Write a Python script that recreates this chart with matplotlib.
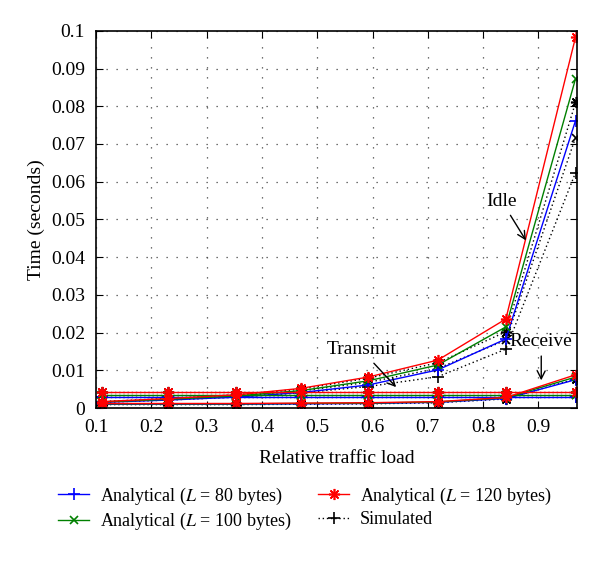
#!/usr/bin/env python3

import matplotlib
matplotlib.use('Agg')
import matplotlib.pyplot as plt
import numpy as np

plt.rcParams['font.family'] = ['Liberation Serif', 'DejaVu Serif']
plt.rcParams['mathtext.fontset'] = 'stix'
plt.rcParams['font.size'] = 14

# relative traffic load
load = [0.11, 0.23, 0.354, 0.47, 0.592, 0.718, 0.841, 0.967]

# idle time
idle_80 = [0.0015, 0.0021, 0.0029, 0.0041, 0.0061, 0.0101, 0.0183, 0.0762]
idle_100 = [0.0016, 0.0023, 0.0032, 0.0046, 0.0072, 0.0114, 0.0215, 0.0873]
idle_120 = [0.0017, 0.0025, 0.0035, 0.0052, 0.0082, 0.0127, 0.0236, 0.0983]
idle_sim_80 = [0.0015, 0.0021, 0.0029, 0.0040, 0.0057, 0.0083, 0.0156, 0.0624]
idle_sim_100 = [0.0016, 0.0023, 0.0032, 0.0045, 0.0068, 0.0105, 0.0180, 0.0717]
idle_sim_120 = [0.0017, 0.0025, 0.0035, 0.0050, 0.0079, 0.0120, 0.0202, 0.0810]

# transmit time
tx_80 = [0.0028] * 8
tx_100 = [0.0035] * 8
tx_120 = [0.0042] * 8

# receive time
rx_80 = [0.0010, 0.0010, 0.0010, 0.0011, 0.0012, 0.0015, 0.0025, 0.0075]
rx_100 = [0.0011, 0.0011, 0.0011, 0.0012, 0.0013, 0.0016, 0.0027, 0.0082]
rx_120 = [0.0012, 0.0012, 0.0012, 0.0013, 0.0014, 0.0017, 0.0028, 0.0088]
rx_sim = [0.0009, 0.0009, 0.0009, 0.0010, 0.0011, 0.0014, 0.0024, 0.0077]

fig = plt.figure(figsize=(6, 5.63), dpi=100)
ax = fig.add_axes([0.16, 0.2753, 0.802, 0.67])

#MATLAB-like markers
ast = (8, 2, 0)
msz = {'+': 8, 'x': 6, ast: 8}
dots = (0, (1, 2))

#Simulated curves (dotted black)
for y, m in [(idle_sim_80, '+'), (idle_sim_100, 'x'), (idle_sim_120, ast),
             (tx_80, '+'), (tx_100, 'x'), (tx_120, ast),
             (rx_sim, ast)]:
	ax.plot(load, y, ls=dots, color='black', marker=m, ms=msz[m], lw=1, mew=1.2)

#Analytical curves
series = [(idle_80, tx_80, rx_80, 'blue', '+'),
          (idle_100, tx_100, rx_100, 'green', 'x'),
          (idle_120, tx_120, rx_120, 'red', ast)]
for idle, tx, rx, c, m in series:
	for y in (idle, tx, rx):
		ax.plot(load, y, '-', color=c, marker=m, ms=msz[m], lw=1, mew=1.2)

#Annotations
arr = dict(arrowstyle='->', color='black', lw=1)
ax.annotate('Idle', xy=(0.880, 0.0438), xytext=(0.834, 0.0547),
            ha='center', va='center', arrowprops=arr)
ax.annotate('Transmit', xy=(0.646, 0.005), xytext=(0.58, 0.0154),
            ha='center', va='center', arrowprops=arr)
ax.annotate('Receive', xy=(0.905, 0.0066), xytext=(0.905, 0.0175),
            ha='center', va='center', arrowprops=arr)

ax.set_xlim(0.1, 0.97)
ax.set_ylim(0, 0.1)
ax.set_xticks(np.arange(0.1, 0.95, 0.1))
ax.set_yticks(np.arange(0, 0.101, 0.01))
ax.set_xticklabels(['0.1', '0.2', '0.3', '0.4', '0.5', '0.6', '0.7', '0.8', '0.9'])
ax.set_yticklabels(['0', '0.01', '0.02', '0.03', '0.04', '0.05', '0.06', '0.07', '0.08', '0.09', '0.1'])
ax.tick_params(direction='in', top=True, right=True, length=5, pad=8)
ax.grid(True, linestyle=(0, (1, 7)), color='#444444', lw=0.9)
for s in ax.spines.values():
	s.set_linewidth(1.2)
ax.set_xlabel('Relative traffic load', labelpad=10)
ax.set_ylabel('Time (seconds)', labelpad=4)

#Legend
h = [plt.Line2D([], [], color='blue', marker='+', ms=8, lw=1, mew=1.2),
     plt.Line2D([], [], color='green', marker='x', ms=6, lw=1, mew=1.2),
     plt.Line2D([], [], color='red', marker=ast, ms=8, lw=1, mew=1.2),
     plt.Line2D([], [], color='black', marker='+', ms=8, lw=1, ls=dots, mew=1.2)]
labels = [r'Analytical ($L$ = 80 bytes)', r'Analytical ($L$ = 100 bytes)',
          r'Analytical ($L$ = 120 bytes)', 'Simulated']
fig.legend(h, labels, ncol=2, frameon=False, loc='center', fontsize=13,
           bbox_to_anchor=(0.508, 0.096), handlelength=1.7, columnspacing=1.5,
           labelspacing=0.25, handletextpad=0.6)

plt.savefig('out.png')
